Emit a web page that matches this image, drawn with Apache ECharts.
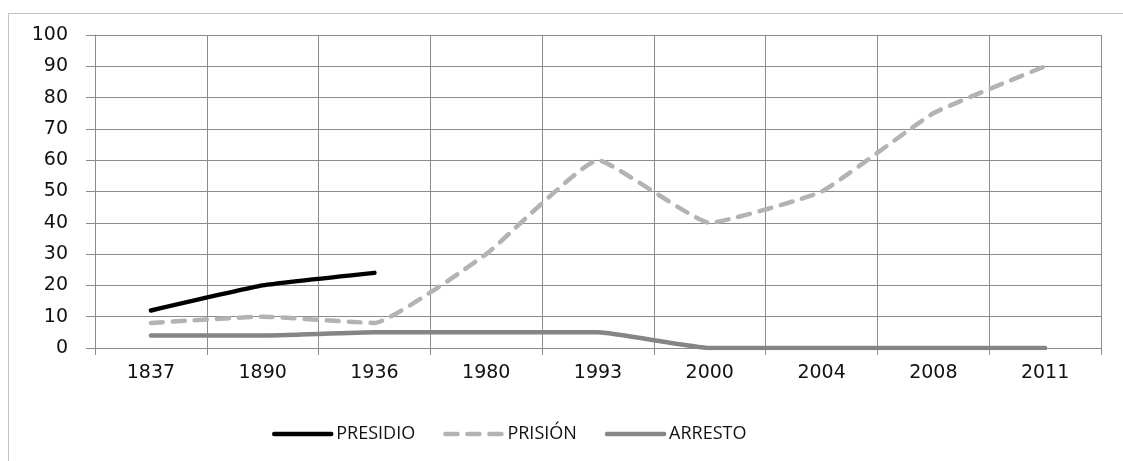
<!DOCTYPE html>
<html>
<head>
<meta charset="utf-8">
<script src="https://cdn.jsdelivr.net/npm/echarts@6/dist/echarts.min.js"></script>
<style>
  html, body { margin: 0; padding: 0; background: #fff; }
  #main { width: 1123px; height: 461px; }
  /* thin frame round the chart, like the spreadsheet chart area */
  #frame {
    position: absolute; left: 8px; top: 13px; width: 1120px; height: 460px;
    border-left: 1px solid #c4c4c4; border-top: 1px solid #c4c4c4;
    pointer-events: none;
  }
</style>
</head>
<body>
<div id="main"></div>
<div id="frame"></div>
<script>
var years = ['1837', '1890', '1936', '1980', '1993', '2000', '2004', '2008', '2011'];
var presidio = [12, 20, 24, null, null, null, null, null, null];
var prision = [8, 10, 8, 30, 60, 40, 50, 75, 90];
var arresto = [4, 4, 5, 5, 5, 0, 0, 0, 0];

var gridColor = '#8c8c8c';
var labelFont = 'DejaVu Sans';

var myChart = echarts.init(document.getElementById('main'));

myChart.setOption({
  animation: false,
  grid: { left: 95, top: 35, right: 22, bottom: 113 },
  legend: {
    top: 420,
    left: 267,
    itemWidth: 57,
    itemHeight: 14,
    itemGap: 28,
    lineStyle: { width: 4.5, cap: 'round' },
    itemStyle: { opacity: 0 },
    textStyle: { fontFamily: 'Open Sans', fontSize: 18, color: '#111' },
    data: ['PRESIDIO', 'PRISIÓN', 'ARRESTO']
  },
  xAxis: {
    type: 'category',
    data: years,
    boundaryGap: true,
    axisLine: { show: true, lineStyle: { color: gridColor, width: 1 } },
    axisTick: { show: true, length: 7, lineStyle: { color: gridColor } },
    axisLabel: { margin: 16, color: '#111', fontFamily: labelFont, fontSize: 19 },
    splitLine: { show: true, lineStyle: { color: gridColor, width: 1 } }
  },
  yAxis: {
    type: 'value',
    min: 0,
    max: 100,
    interval: 10,
    axisLine: { show: true, lineStyle: { color: gridColor, width: 1 } },
    axisTick: { show: true, length: 9, lineStyle: { color: gridColor } },
    axisLabel: { margin: 27, color: '#111', fontFamily: labelFont, fontSize: 19 },
    splitLine: { show: true, lineStyle: { color: gridColor, width: 1 } }
  },
  series: [
    {
      name: 'PRESIDIO',
      type: 'line',
      data: presidio,
      smooth: 0.12,
      symbol: 'none',
      lineStyle: { color: '#000', width: 4.5, cap: 'round' },
      itemStyle: { color: '#000' }
    },
    {
      name: 'PRISIÓN',
      type: 'line',
      data: prision,
      smooth: 0.12,
      symbol: 'none',
      lineStyle: { color: '#b3b3b3', width: 4.5, type: [12, 10], cap: 'round' },
      itemStyle: { color: '#b3b3b3' }
    },
    {
      name: 'ARRESTO',
      type: 'line',
      data: arresto,
      smooth: 0.12,
      symbol: 'none',
      lineStyle: { color: '#858585', width: 4.5, cap: 'round' },
      itemStyle: { color: '#858585' }
    }
  ]
});
</script>
</body>
</html>
